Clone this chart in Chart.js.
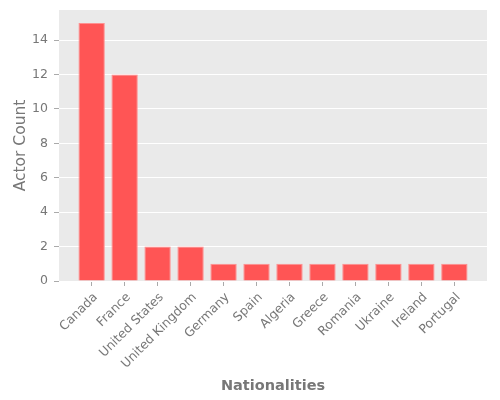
<!DOCTYPE html>
<html>
<head>
<meta charset="utf-8">
<script src="https://cdn.jsdelivr.net/npm/chart.js@4"></script>
<style>
  html, body { margin: 0; padding: 0; background: #ffffff; }
  #wrap { width: 500px; height: 400px; }
</style>
</head>
<body>
<div id="wrap"><canvas id="c" width="500" height="400"></canvas></div>
<script>
const categories = ["Canada", "France", "United States", "United Kingdom", "Germany", "Spain", "Algeria", "Greece", "Romania", "Ukraine", "Ireland", "Portugal"];
const actorCounts = [15, 12, 2, 2, 1, 1, 1, 1, 1, 1, 1, 1];
const yTicks = [0, 2, 4, 6, 8, 10, 12, 14];
const xTitle = "Nationalities";
const yTitle = "Actor Count";

const bgPlugin = {
  id: 'plotBg',
  beforeDraw(chart) {
    const a = chart.chartArea;
    const ctx = chart.ctx;
    ctx.save();
    ctx.fillStyle = '#EAEAEA';
    ctx.fillRect(a.left, a.top, a.right - a.left, a.bottom - a.top);
    ctx.restore();
  }
};

const textColor = '#777777';
const font = "'DejaVu Sans', sans-serif";

new Chart(document.getElementById('c'), {
  type: 'bar',
  data: {
    datasets: [{
      data: categories.map((c, i) => ({ x: i, y: actorCounts[i] })),
      backgroundColor: '#FF5555',
      borderColor: '#FF9090',
      borderWidth: 1,
      categoryPercentage: 0.8,
      barPercentage: 1.0
    }]
  },
  options: {
    responsive: false,
    devicePixelRatio: 1,
    animation: false,
    layout: { padding: { top: 10, right: 13, left: 0, bottom: 0 } },
    plugins: {
      legend: { display: false },
      tooltip: { enabled: false }
    },
    scales: {
      x: {
        type: 'linear',
        offset: false,
        min: -0.99,
        max: 11.99,
        afterBuildTicks(scale) {
          scale.ticks = categories.map((_, i) => ({ value: i }));
        },
        afterFit(scale) { scale.height = 119; },
        border: { display: false },
        grid: {
          offset: false,
          drawOnChartArea: false,
          drawTicks: true,
          tickLength: 5,
          tickColor: '#AAAAAA'
        },
        ticks: {
          autoSkip: false,
          maxRotation: 45,
          minRotation: 45,
          padding: 4,
          labelOffset: 4,
          color: textColor,
          font: { family: font, size: 12.5 },
          callback: (v) => categories[v]
        },
        title: {
          display: true,
          text: xTitle,
          color: textColor,
          font: { family: font, size: 14.5, weight: 'bold' },
          padding: { top: 4, bottom: 5 }
        }
      },
      y: {
        min: 0,
        max: 15.75,
        afterBuildTicks(scale) {
          scale.ticks = yTicks.map(v => ({ value: v }));
        },
        afterFit(scale) {
          scale.width = 59;
          scale.paddingTop = 0;
          scale.paddingBottom = 0;
        },
        border: { display: false },
        grid: {
          color: '#FFFFFF',
          lineWidth: 1,
          drawTicks: true,
          tickLength: 5,
          tickColor: '#AAAAAA'
        },
        ticks: {
          padding: 6,
          color: textColor,
          font: { family: font, size: 12.5 }
        },
        title: {
          display: true,
          text: yTitle,
          color: textColor,
          font: { family: font, size: 15.5, weight: 'normal' },
          padding: { top: 12, bottom: 4 }
        }
      }
    }
  },
  plugins: [bgPlugin]
});
</script>
</body>
</html>
